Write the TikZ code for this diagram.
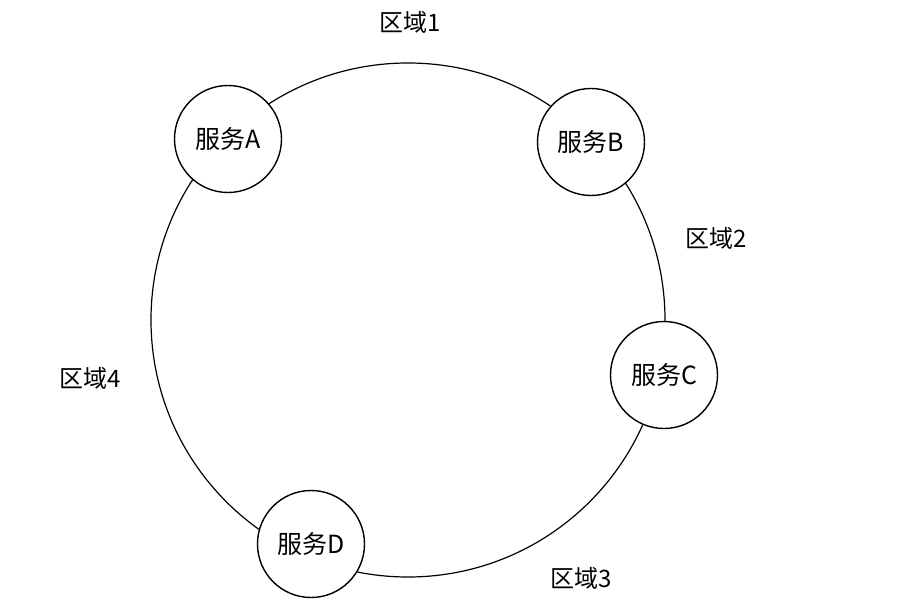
\documentclass[tikz,border=0pt]{standalone}
\usepackage{fontspec}
\newfontfamily\cjk{Noto Sans CJK SC}
\begin{document}
\begin{tikzpicture}[x=1pt,y=-1pt,
  svc/.style={circle,draw=black,line width=1.4pt,fill=white,minimum size=107pt,inner sep=0pt,font=\cjk\fontsize{25}{28}\selectfont},
  zone/.style={font=\cjk\fontsize{24}{28}\selectfont,inner sep=0pt},
  ring/.style={draw=black,line width=1.2pt}]
\useasboundingbox[fill=white] (0,0) rectangle (908,612);
\node[circle,ring,minimum size=514pt,inner sep=0pt] (ring) at (408,320) {};
\node[svc] (A) at (228,139) {服务A};
\node[svc] (B) at (591,142) {服务B};
\node[svc] (C) at (664,375) {服务C};
\node[svc] (D) at (311,544) {服务D};
\node[zone] (z1) at (410,22) {区域1};
\node[zone] (z2) at (716,238) {区域2};
\node[zone] (z3) at (581,578) {区域3};
\node[zone] (z4) at (90,378) {区域4};
\end{tikzpicture}
\end{document}
